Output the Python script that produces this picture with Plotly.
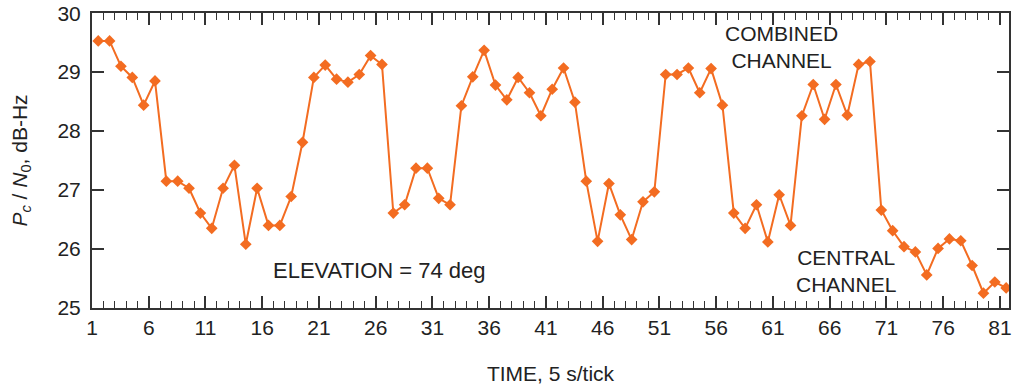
import plotly.graph_objects as go

# Sample index (time ticks) and measured Pc/N0 values (dB-Hz)
sample = list(range(1, 82))
pc_n0 = [29.53, 29.53, 29.10, 28.91, 28.44, 28.85, 27.15, 27.15, 27.03, 26.61,
         26.35, 27.03, 27.42, 26.08, 27.03, 26.40, 26.40, 26.89, 27.81, 28.91,
         29.12, 28.88, 28.83, 28.96, 29.28, 29.13, 26.61, 26.75, 27.37, 27.37,
         26.86, 26.75, 28.43, 28.92, 29.37, 28.78, 28.53, 28.91, 28.65, 28.26,
         28.71, 29.07, 28.49, 27.15, 26.13, 27.11, 26.58, 26.16, 26.80, 26.97,
         28.96, 28.96, 29.07, 28.65, 29.06, 28.44, 26.61, 26.35, 26.75, 26.12,
         26.92, 26.40, 28.26, 28.79, 28.20, 28.79, 28.27, 29.13, 29.18, 26.66,
         26.31, 26.04, 25.95, 25.56, 26.01, 26.17, 26.14, 25.72, 25.25, 25.44,
         25.34]
x_offset = 0.55  # samples sit between integer tick marks
x_vals = [s + x_offset for s in sample]

x_tickvals = list(range(1, 82, 5))
y_tickvals = [25, 26, 27, 28, 29, 30]

ORANGE = "#F36C21"
AXC = "#333333"
TXT = "#222222"
FONT = "Liberation Sans, Arial, sans-serif"

fig = go.Figure()
fig.add_trace(go.Scatter(
    x=x_vals, y=pc_n0, mode="lines+markers",
    line=dict(color=ORANGE, width=2),
    marker=dict(symbol="diamond", size=9, color=ORANGE),
    showlegend=False, hoverinfo="skip",
))

fig.add_annotation(x=26.3, y=25.63, text="ELEVATION = 74 deg", showarrow=False,
                   font=dict(size=22, color=TXT, family=FONT))
fig.add_annotation(x=61.75, y=29.42, text="COMBINED<br>CHANNEL", showarrow=False,
                   font=dict(size=21, color=TXT, family=FONT))
fig.add_annotation(x=67.4, y=25.63, text="CENTRAL<br>CHANNEL", showarrow=False,
                   font=dict(size=21, color=TXT, family=FONT))

fig.update_layout(
    width=1013, height=385,
    margin=dict(l=92, r=2, t=9, b=77),
    paper_bgcolor="white", plot_bgcolor="white",
    font=dict(family=FONT, size=21, color=TXT),
)
fig.update_xaxes(
    range=[1, 81.8], tickvals=x_tickvals, ticks="inside", ticklen=12,
    tickwidth=1.5, tickcolor=AXC,
    minor=dict(dtick=1, tick0=1, ticks="inside", ticklen=7, tickwidth=1.2, tickcolor=AXC),
    showline=True, linecolor=AXC, linewidth=2, mirror="ticks",
    showgrid=False, zeroline=False,
    title=dict(text="TIME, 5 s/tick", standoff=28, font=dict(size=21)),
    tickfont=dict(size=21),
)
fig.update_yaxes(
    range=[24.999, 30.003], tickvals=y_tickvals, ticks="inside", ticklen=12,
    tickwidth=1.5, tickcolor=AXC,
    showline=True, linecolor=AXC, linewidth=2, mirror="ticks",
    showgrid=False, zeroline=False, ticklabelstandoff=5,
    ticklabeloverflow="allow",
    title=dict(text="<i>P</i><sub><i>c</i></sub> / <i>N</i><sub>0</sub>, dB-Hz",
               standoff=24, font=dict(size=21)),
    tickfont=dict(size=21),
)

fig.write_html("out.html", config={"displayModeBar": False},
               post_script="document.body.style.margin='0';")
